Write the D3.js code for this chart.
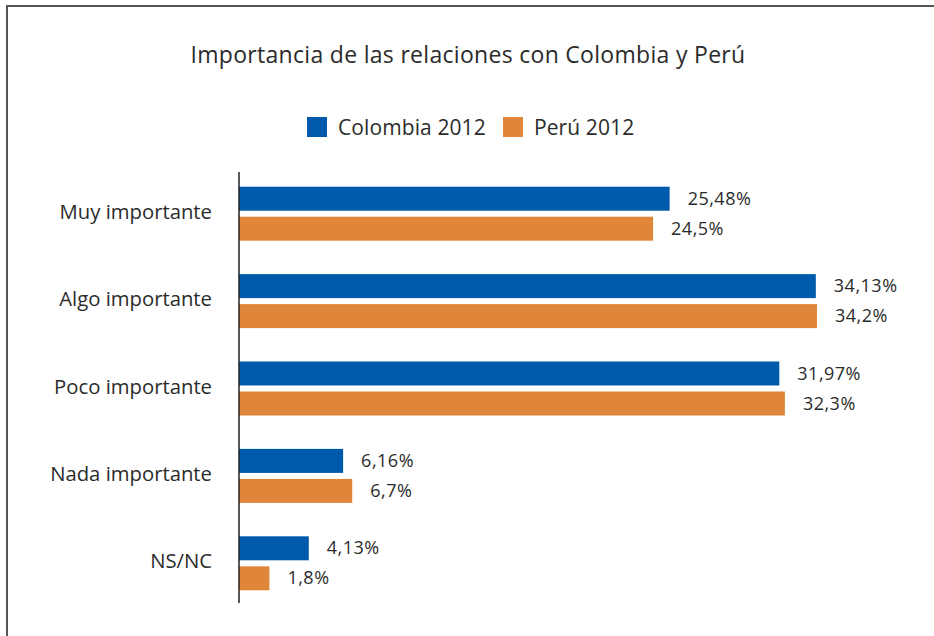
<!DOCTYPE html>
<html>
<head>
<meta charset="utf-8">
<script src="https://cdn.jsdelivr.net/npm/d3@7"></script>
<style>
  html, body { margin: 0; padding: 0; background: #fff; }
  svg text { font-family: "Open Sans", "Noto Sans", sans-serif; fill: #2b2b2b; }
</style>
</head>
<body>
<svg id="chart" width="934" height="636"></svg>
<script>
const categories = ["Muy importante", "Algo importante", "Poco importante", "Nada importante", "NS/NC"];
const seriesNames = ["Colombia 2012", "Perú 2012"];
const colombia = [25.48, 34.13, 31.97, 6.16, 4.13];
const peru = [24.5, 34.2, 32.3, 6.7, 1.8];
const colombiaLabels = ["25,48%", "34,13%", "31,97%", "6,16%", "4,13%"];
const peruLabels = ["24,5%", "34,2%", "32,3%", "6,7%", "1,8%"];
const colors = ["#005aab", "#e0863a"];

const svg = d3.select("#chart");

// frame: top and left edges
svg.append("line").attr("x1", 6).attr("x2", 934).attr("y1", 6).attr("y2", 6)
  .attr("stroke", "#555").attr("stroke-width", 2);
svg.append("line").attr("x1", 7).attr("x2", 7).attr("y1", 5).attr("y2", 636)
  .attr("stroke", "#555").attr("stroke-width", 2);

// title
svg.append("text").attr("x", 468).attr("y", 63).attr("text-anchor", "middle")
  .attr("font-size", 23).attr("letter-spacing", 0.3)
  .text("Importancia de las relaciones con Colombia y Perú");

// legend
const legendItems = [
  { name: seriesNames[0], color: colors[0], x: 307 },
  { name: seriesNames[1], color: colors[1], x: 503 }
];
const lg = svg.selectAll("g.legend").data(legendItems).enter().append("g")
  .attr("class", "legend").attr("transform", d => `translate(${d.x},117)`);
lg.append("rect").attr("width", 20).attr("height", 20).attr("fill", d => d.color);
lg.append("text").attr("x", 31).attr("y", 18).attr("font-size", 21).attr("letter-spacing", 0.1)
  .text(d => d.name);

// scales
const x0 = 239;
const x = d3.scaleLinear().domain([0, 34.2]).range([x0, 817]);
const y = d3.scaleBand().domain(categories).range([170, 607]);
const barH = 24, gap = 6;

const data = categories.map((c, i) => ({
  cat: c,
  values: [
    { v: colombia[i], label: colombiaLabels[i], s: 0 },
    { v: peru[i], label: peruLabels[i], s: 1 }
  ]
}));

const groups = svg.selectAll("g.cat").data(data).enter().append("g").attr("class", "cat")
  .attr("transform", d => `translate(0,${y(d.cat) + y.bandwidth() / 2})`);

groups.selectAll("rect").data(d => d.values).enter().append("rect")
  .attr("x", x(0))
  .attr("y", d => d.s === 0 ? -gap / 2 - barH : gap / 2)
  .attr("width", d => x(d.v) - x(0))
  .attr("height", barH)
  .attr("fill", d => colors[d.s]);

groups.selectAll("text.val").data(d => d.values).enter().append("text")
  .attr("class", "val")
  .attr("x", d => x(d.v) + 18)
  .attr("y", d => (d.s === 0 ? -gap / 2 - barH / 2 : gap / 2 + barH / 2) + 6)
  .attr("font-size", 18).attr("letter-spacing", 0.5)
  .text(d => d.label);

// category labels
groups.append("text").attr("x", 212).attr("y", 5).attr("text-anchor", "end")
  .attr("font-size", 20.3).text(d => d.cat);

// axis line
svg.append("line").attr("x1", x0).attr("x2", x0).attr("y1", 172).attr("y2", 603)
  .attr("stroke", "#222").attr("stroke-width", 1.5);
</script>
</body>
</html>
